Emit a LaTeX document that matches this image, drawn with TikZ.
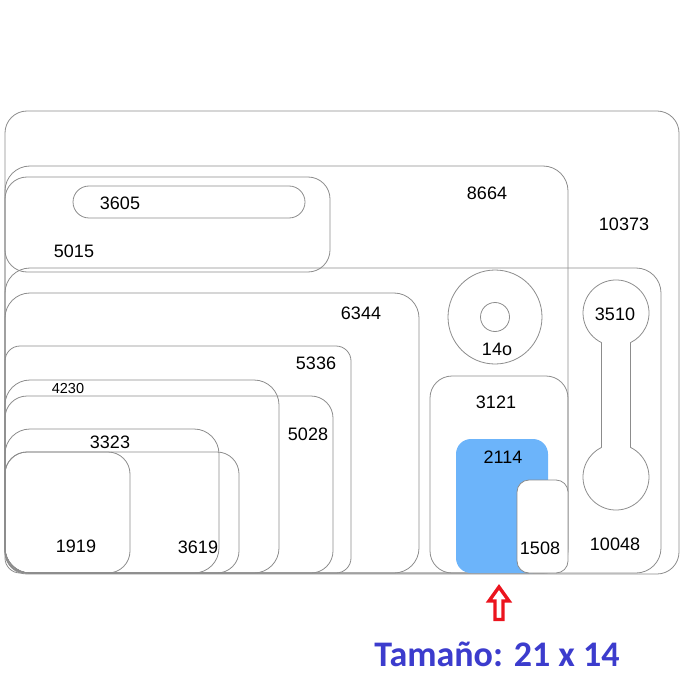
\documentclass[tikz,border=0pt]{standalone}
\usepackage{fontspec}
\setmainfont{Liberation Sans}
\newfontfamily\titlefont{Carlito}
\usepackage{tikz}

\definecolor{linegray}{RGB}{140,140,140}
\definecolor{pieceblue}{RGB}{108,180,250}
\definecolor{markred}{RGB}{235,20,30}
\definecolor{titleblue}{RGB}{60,60,205}

\begin{document}
\begin{tikzpicture}[x=1pt,y=-1pt]
 \tikzset{piece/.style = {draw=linegray, line width=0.8pt, rounded corners=#1}}
 \tikzset{lbl/.style = {inner sep=0pt, font=\fontsize{18}{20}\selectfont}}
 \useasboundingbox (0,0) rectangle (684,684);

 % sheets
 \draw[piece=22pt] (5,111) rectangle (679,574);
 \draw[piece=25pt] (5,166) rectangle (568,573);
 \draw[piece=25pt] (5,268) rectangle (661,573);
 \draw[piece=22pt] (5,177) rectangle (330,272);
 \draw[piece=16pt] (73,186) rectangle (305,218);
 \draw[piece=25pt] (5,293) rectangle (419,573);
 \draw[piece=15pt] (5,346) rectangle (351,573);
 \draw[piece=25pt] (5,380) rectangle (279,573);
 \draw[piece=22pt] (5,396) rectangle (333,573);
 \draw[piece=25pt] (5,429) rectangle (219,573);
 \draw[piece=22pt] (5,452) rectangle (239,573);
 \draw[piece=22pt] (5,452) rectangle (130,573);
 \draw[piece=22pt] (430,376) rectangle (568,573);
 \fill[pieceblue, rounded corners=15pt] (456,439) rectangle (548,573);
 \draw[piece=12pt, fill=white] (517,480) rectangle (568,573);
 \draw[piece=0pt] (495,317) circle[radius=47];
 \draw[piece=0pt] (495,317) circle[radius=14.5];
 \draw[piece=0pt] (601.5,342.6) arc[start angle=116.1, end angle=423.9, radius=33]
   -- (630.5,447.4) arc[start angle=-63.9, end angle=243.9, radius=33] -- cycle;

 % labels
 \node[lbl] (n10373) at (624,224) {10373};
 \node[lbl] (n8664) at (487,193) {8664};
 \node[lbl] (n3605) at (120,203) {3605};
 \node[lbl] (n5015) at (74,251) {5015};
 \node[lbl] (n6344) at (361,313) {6344};
 \node[lbl] (n5336) at (316,363) {5336};
 \node[lbl, font=\fontsize{14.5}{16}\selectfont] (n4230) at (68,389) {4230};
 \node[lbl] (n5028) at (308,434) {5028};
 \node[lbl] (n3323) at (110,442) {3323};
 \node[lbl] (n1919) at (76,546) {1919};
 \node[lbl] (n3619) at (198,547) {3619};
 \node[lbl] (n14o) at (497,349) {14o};
 \node[lbl] (n3510) at (615,314) {3510};
 \node[lbl] (n3121) at (496,402) {3121};
 \node[lbl] (n2114) at (503,457) {2114};
 \node[lbl] (n1508) at (540,548) {1508};
 \node[lbl] (n10048) at (615,544) {10048};

 % marker
 \draw[markred, line width=3.4pt, line join=miter]
   (499,587) -- (509,601) -- (503,601) -- (503,619.5) -- (495,619.5) -- (495,601) -- (489,601) -- cycle;
 \node[text=titleblue, font=\titlefont\bfseries\fontsize{36}{40}\selectfont] (size) at (497,654) {Tamaño: 21 x 14};
\end{tikzpicture}
\end{document}
